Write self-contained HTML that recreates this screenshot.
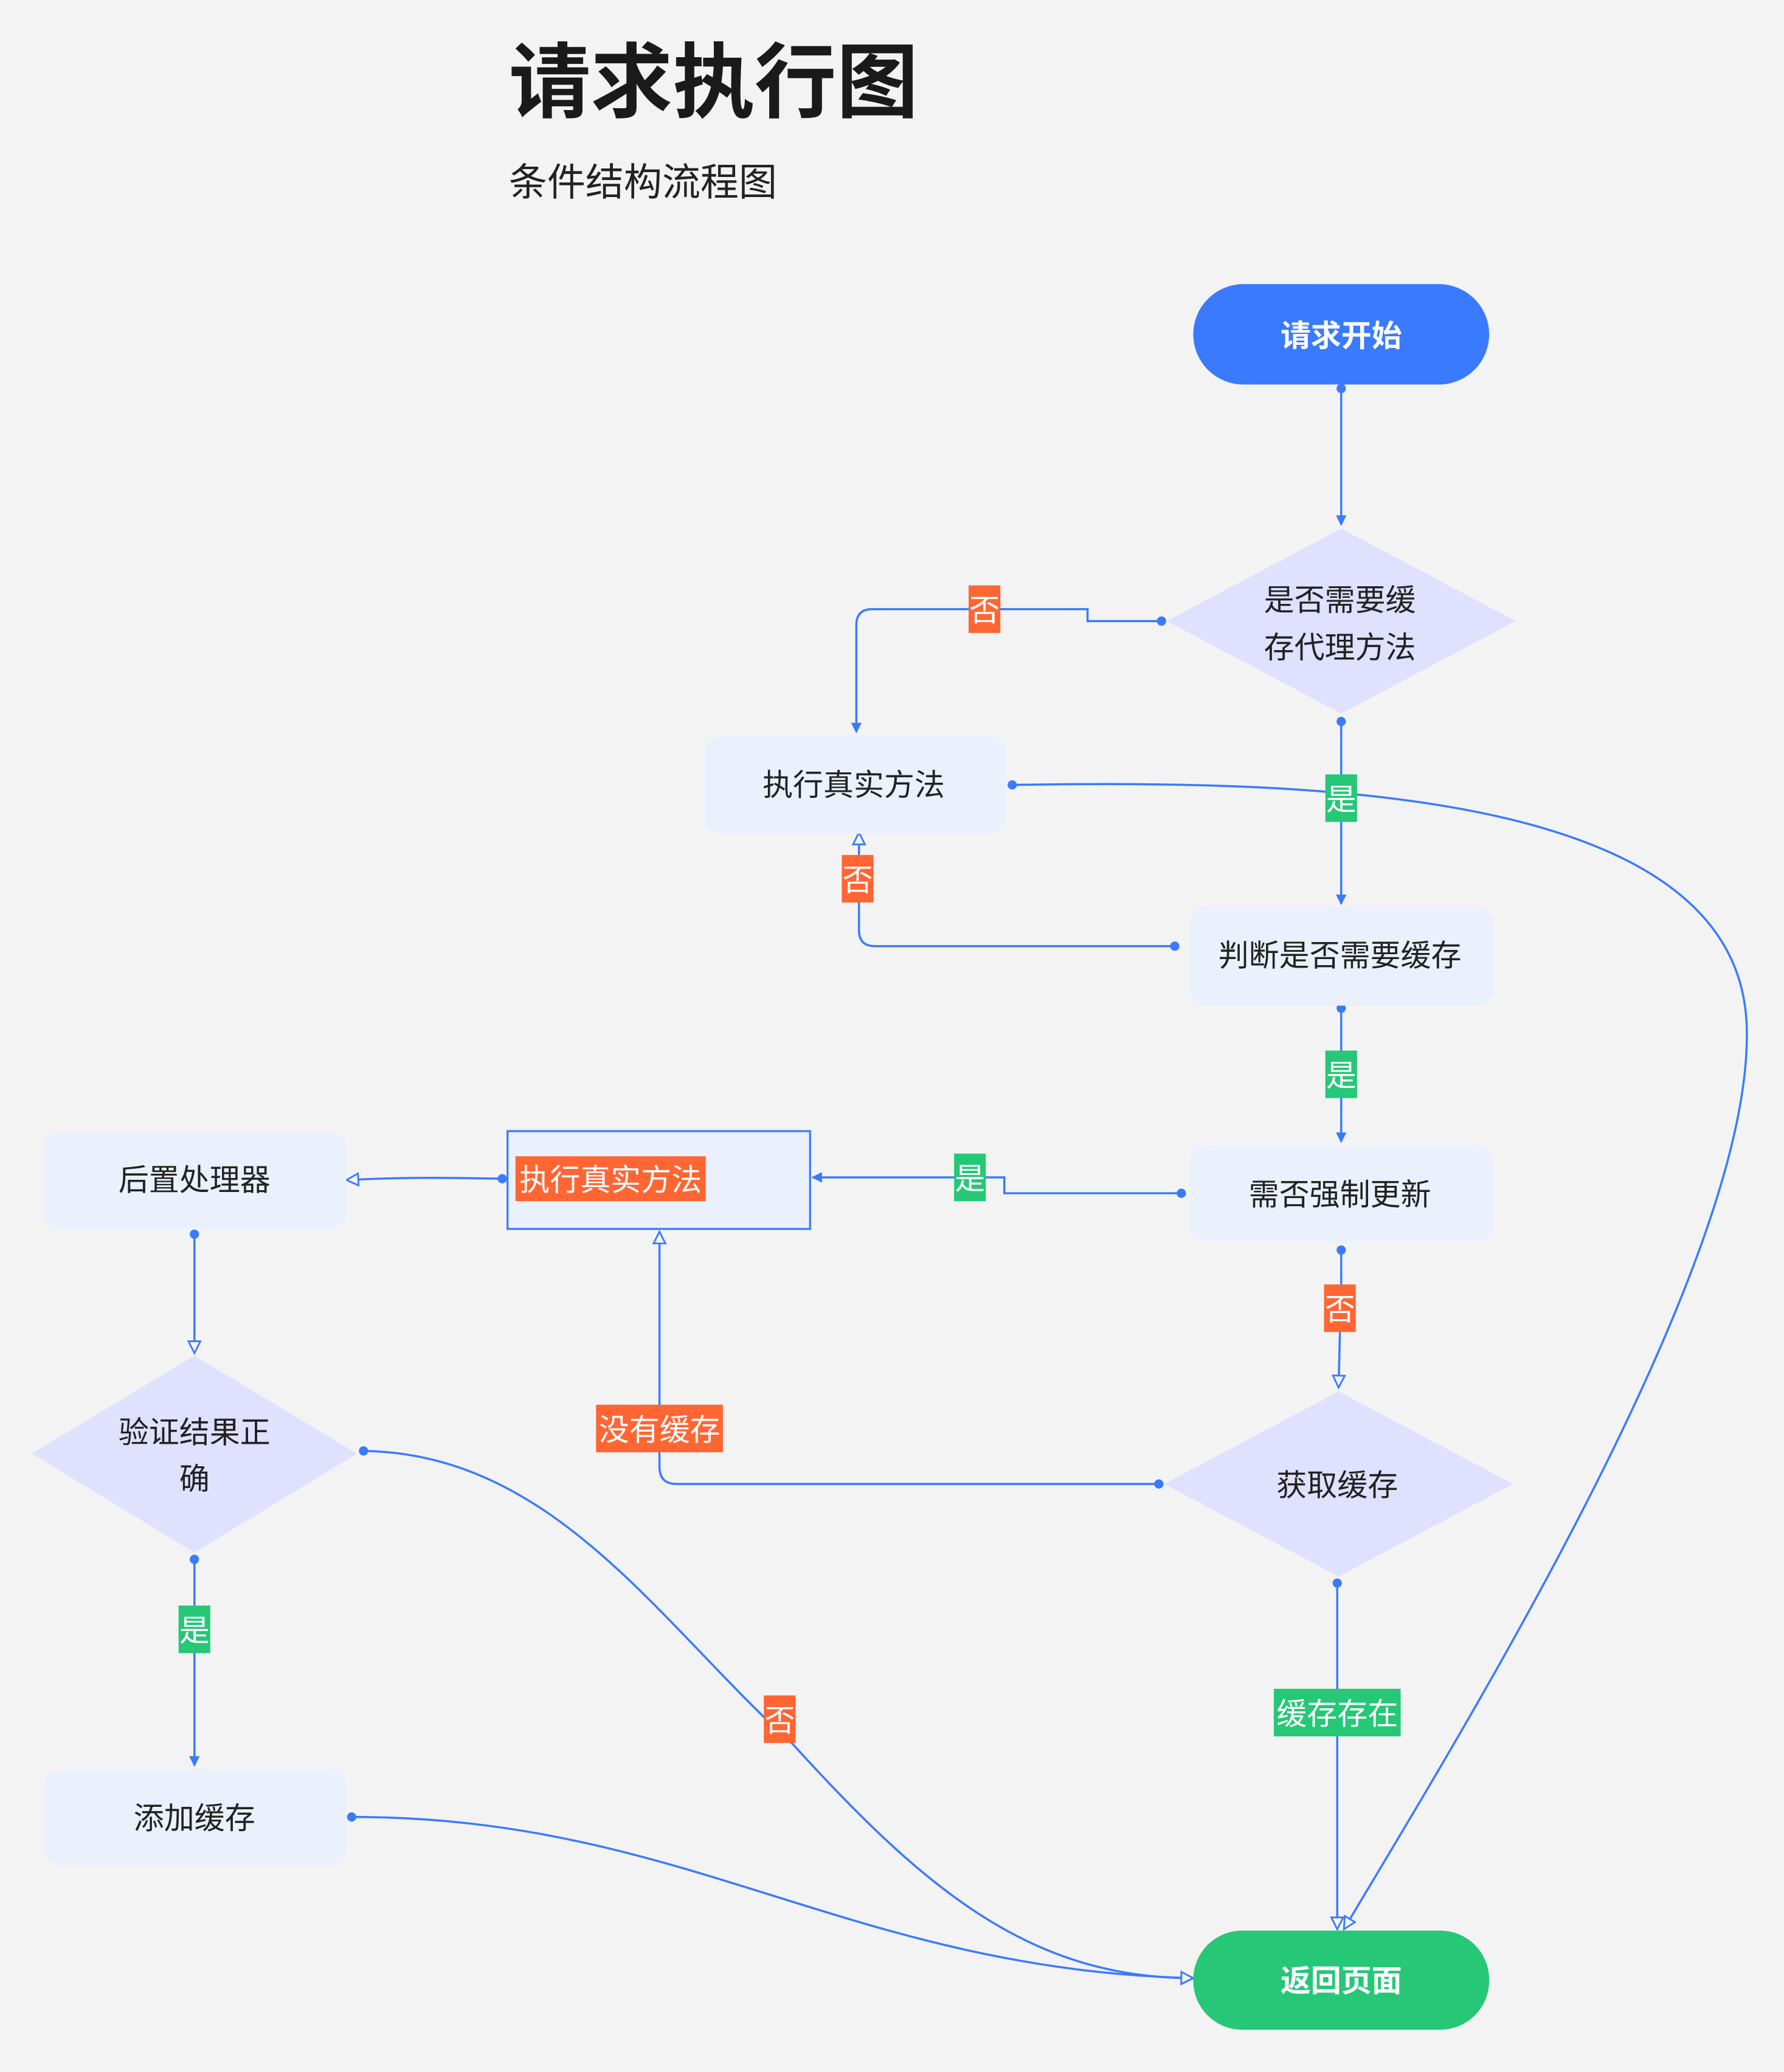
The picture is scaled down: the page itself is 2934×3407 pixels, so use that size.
<!DOCTYPE html>
<html><head><meta charset="utf-8">
<style>
html,body{margin:0;padding:0;background:#f3f3f3;}
svg{display:block;}
text{font-family:"Liberation Sans","Noto Sans CJK SC",sans-serif;}
</style></head>
<body>
<svg width="2934" height="3407" viewBox="0 0 1350 1568" xmlns="http://www.w3.org/2000/svg">
<defs>
<marker id="af" markerWidth="10" markerHeight="10" refX="8" refY="5" orient="auto" markerUnits="userSpaceOnUse">
<path d="M1,1 L9,5 L1,9 Z" fill="#3a7afe"/></marker>
<marker id="ao" markerWidth="12" markerHeight="12" refX="10" refY="6" orient="auto" markerUnits="userSpaceOnUse">
<path d="M1,1.5 L10,6 L1,10.5 Z" fill="#f3f3f3" stroke="#3a7afe" stroke-width="1.3"/></marker>
<marker id="dot" markerWidth="8" markerHeight="8" refX="4" refY="4" markerUnits="userSpaceOnUse">
<circle cx="4" cy="4" r="3.5" fill="#3a7afe"/></marker>
</defs>
<rect width="1350" height="1568" fill="#f3f3f3"/>
<text x="385" y="84" font-size="62" font-weight="bold" fill="#1a1a1a">请求执行图</text>
<text x="385" y="148" font-size="29" fill="#222">条件结构流程图</text>

<!-- edges -->
<g fill="none" stroke="#3a7afe" stroke-width="1.6">
<path d="M1015,294 L1015,397" marker-start="url(#dot)" marker-end="url(#af)"/>
<path d="M879,470 L823,470 L823,461 L660,461 Q648,461 648,473 L648,554" marker-start="url(#dot)" marker-end="url(#af)"/>
<path d="M1015,546 L1015,684" marker-start="url(#dot)" marker-end="url(#af)"/>
<path d="M766,594 C1000,590 1320,598 1322,780 C1325,960 1100,1320 1017,1460" marker-start="url(#dot)" marker-end="url(#ao)"/>
<path d="M889,716 L662,716 Q650,716 650,704 L650,630" marker-start="url(#dot)" marker-end="url(#ao)"/>
<path d="M1015,763 L1015,864" marker-start="url(#dot)" marker-end="url(#af)"/>
<path d="M894,903 L760,903 L760,891 L615,891" marker-start="url(#dot)" marker-end="url(#af)"/>
<path d="M1015,946 L1015,970 L1013,1050" marker-start="url(#dot)" marker-end="url(#ao)"/>
<path d="M877,1123 L512,1123 Q499,1123 499,1110 L499,932" marker-start="url(#dot)" marker-end="url(#ao)"/>
<path d="M1012,1198 L1012,1460" marker-start="url(#dot)" marker-end="url(#ao)"/>
<path d="M380,892 C330,891 300,891 262,893" marker-start="url(#dot)" marker-end="url(#ao)"/>
<path d="M147,934 L147,1024" marker-start="url(#dot)" marker-end="url(#ao)"/>
<path d="M147,1180 L147,1336" marker-start="url(#dot)" marker-end="url(#af)"/>
<path d="M275,1098 C420,1100 500,1230 600,1320 C700,1430 780,1497 903,1497" marker-start="url(#dot)" marker-end="url(#ao)"/>
<path d="M266,1375 C520,1375 640,1490 903,1497" marker-start="url(#dot)" marker-end="url(#ao)"/>
</g>

<!-- nodes -->
<rect x="903" y="215" width="224" height="76" rx="38" fill="#3a7afe"/>
<text x="1015" y="262" font-size="23" font-weight="bold" fill="#fff" text-anchor="middle">请求开始</text>

<polygon points="1015,400 1147,470 1015,540 883,470" fill="#e0e0ff"/>
<text x="1014" y="462" font-size="23" fill="#222" text-anchor="middle">是否需要缓</text>
<text x="1014" y="498" font-size="23" fill="#222" text-anchor="middle">存代理方法</text>

<rect x="533" y="557" width="228" height="74" rx="12" fill="#eaf1fd"/>
<text x="646" y="602" font-size="23" fill="#222" text-anchor="middle">执行真实方法</text>

<rect x="900" y="686" width="230" height="75" rx="12" fill="#eaf1fd"/>
<text x="1014" y="731" font-size="23" fill="#222" text-anchor="middle">判断是否需要缓存</text>

<rect x="900" y="867" width="230" height="73" rx="12" fill="#eaf1fd"/>
<text x="1014" y="912" font-size="23" fill="#222" text-anchor="middle">需否强制更新</text>

<rect x="384" y="856" width="229" height="74" fill="#eaf1fd" stroke="#3a7afe" stroke-width="1.5"/>
<rect x="390" y="875" width="144" height="34" fill="#ff6633"/>
<text x="462" y="901" font-size="23" fill="#fff" text-anchor="middle">执行真实方法</text>

<rect x="33" y="856" width="229" height="74" rx="12" fill="#eaf1fd"/>
<text x="147" y="901" font-size="23" fill="#222" text-anchor="middle">后置处理器</text>

<polygon points="1013,1053 1145,1123 1013,1193 881,1123" fill="#e0e0ff"/>
<text x="1012" y="1132" font-size="23" fill="#222" text-anchor="middle">获取缓存</text>

<polygon points="147,1026 270,1100 147,1175 24,1100" fill="#e0e0ff"/>
<text x="147" y="1092" font-size="23" fill="#222" text-anchor="middle">验证结果正</text>
<text x="147" y="1127" font-size="23" fill="#222" text-anchor="middle">确</text>

<rect x="33" y="1339" width="229" height="73" rx="12" fill="#eaf1fd"/>
<text x="147" y="1384" font-size="23" fill="#222" text-anchor="middle">添加缓存</text>

<rect x="903" y="1461" width="224" height="75" rx="37" fill="#26c777"/>
<text x="1015" y="1507" font-size="23" font-weight="bold" fill="#fff" text-anchor="middle">返回页面</text>

<!-- edge labels -->
<g font-size="23" fill="#fff" text-anchor="middle">
<rect x="733" y="443" width="24" height="36" fill="#ff6633"/><text x="745" y="470">否</text>
<rect x="1003" y="586" width="24" height="36" fill="#26c777"/><text x="1015" y="613">是</text>
<rect x="637" y="647" width="24" height="36" fill="#ff6633"/><text x="649" y="674">否</text>
<rect x="1003" y="795" width="24" height="36" fill="#26c777"/><text x="1015" y="822">是</text>
<rect x="722" y="873" width="24" height="36" fill="#26c777"/><text x="734" y="900">是</text>
<rect x="1002" y="972" width="24" height="36" fill="#ff6633"/><text x="1014" y="999">否</text>
<rect x="451" y="1063" width="96" height="36" fill="#ff6633"/><text x="499" y="1090">没有缓存</text>
<rect x="964" y="1278" width="96" height="36" fill="#26c777"/><text x="1012" y="1305">缓存存在</text>
<rect x="135" y="1215" width="24" height="36" fill="#26c777"/><text x="147" y="1242">是</text>
<rect x="578" y="1283" width="24" height="36" fill="#ff6633"/><text x="590" y="1310">否</text>
</g>
</svg>
</body></html>
